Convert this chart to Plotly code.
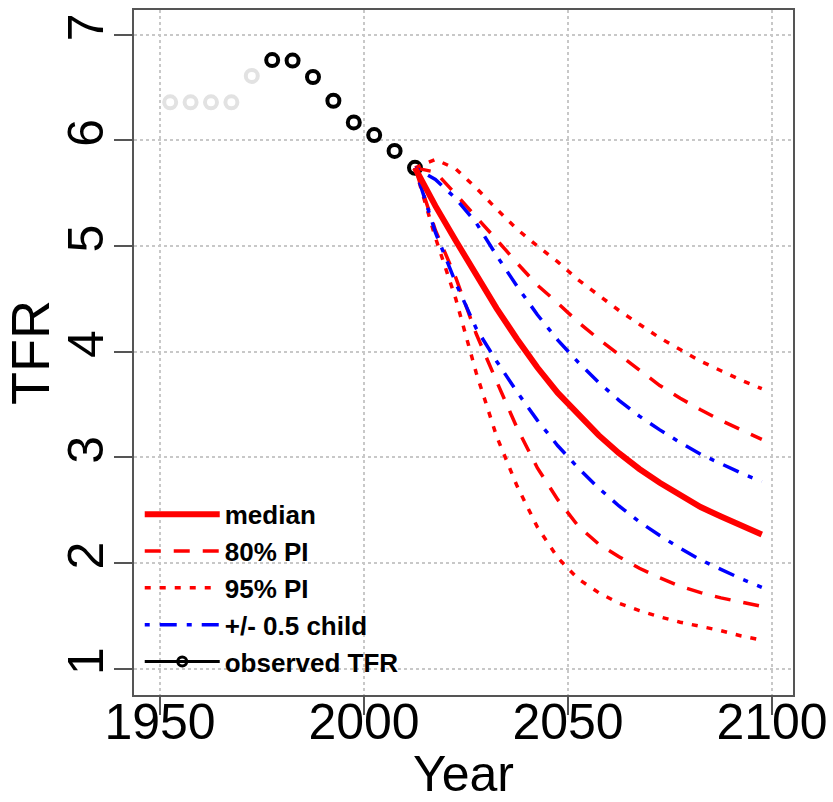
import plotly.graph_objects as go

# ---- data ----
obs_years_gray = [1952.5, 1957.5, 1962.5, 1967.5, 1972.5]
obs_tfr_gray = [6.36, 6.36, 6.36, 6.36, 6.61]
obs_years = [1977.5, 1982.5, 1987.5, 1992.5, 1997.5, 2002.5, 2007.5, 2012.5]
obs_tfr = [6.76, 6.755, 6.60, 6.375, 6.17, 6.05, 5.90, 5.74]

proj_years = [2012.5, 2017.5, 2022.5, 2027.5, 2032.5, 2037.5, 2042.5, 2047.5, 2052.5,
              2057.5, 2062.5, 2067.5, 2072.5, 2077.5, 2082.5, 2087.5, 2092.5, 2097.5]
median = [5.74, 5.38, 5.05, 4.72, 4.41, 4.12, 3.85, 3.61, 3.40,
          3.21, 3.04, 2.89, 2.76, 2.64, 2.53, 2.44, 2.35, 2.27]
pi80_upper = [5.74, 5.70, 5.49, 5.28, 5.06, 4.84, 4.63, 4.46, 4.28,
              4.12, 3.97, 3.82, 3.68, 3.56, 3.45, 3.35, 3.26, 3.17]
pi80_lower = [5.74, 5.15, 4.70, 4.17, 3.72, 3.28, 2.90, 2.60, 2.35,
              2.18, 2.06, 1.95, 1.86, 1.78, 1.72, 1.67, 1.63, 1.59]
pi95_upper = [5.74, 5.82, 5.73, 5.55, 5.35, 5.16, 5.00, 4.85, 4.68,
              4.53, 4.39, 4.26, 4.13, 4.02, 3.91, 3.82, 3.73, 3.65]
pi95_lower = [5.74, 5.08, 4.50, 3.80, 3.20, 2.73, 2.34, 2.05, 1.85,
              1.72, 1.62, 1.55, 1.49, 1.44, 1.40, 1.36, 1.31, 1.27]
half_child_upper = [5.74, 5.63, 5.45, 5.22, 4.91, 4.62, 4.35, 4.11, 3.90,
                    3.71, 3.54, 3.39, 3.26, 3.14, 3.03, 2.94, 2.85, 2.77]
half_child_lower = [5.74, 5.13, 4.65, 4.22, 3.91, 3.62, 3.35, 3.11, 2.90,
                    2.71, 2.54, 2.39, 2.26, 2.14, 2.03, 1.94, 1.85, 1.77]

x_ticks = [1950, 2000, 2050, 2100]
y_ticks = [1, 2, 3, 4, 5, 6, 7]

RED = "#ff0000"
BLUE = "#0000ff"
DASH80 = "16px,13px"
DOT95 = "6px,9px"
DOTDASH = "5px,10px,17px,10px"

fig = go.Figure()

# observed
fig.add_trace(go.Scatter(x=obs_years_gray, y=obs_tfr_gray, mode="markers",
                         marker=dict(symbol="circle-open", size=12, color="#e2e2e2",
                                     line=dict(width=4)),
                         showlegend=False, hoverinfo="x+y"))
fig.add_trace(go.Scatter(x=obs_years, y=obs_tfr, mode="markers",
                         marker=dict(symbol="circle-open", size=12, color="black",
                                     line=dict(width=4)),
                         showlegend=False, hoverinfo="x+y"))

# projections
fig.add_trace(go.Scatter(x=proj_years, y=pi95_upper, mode="lines", name="95% PI",
                         legendgroup="95", legendrank=3,
                         line=dict(color=RED, width=3.5, dash=DOT95)))
fig.add_trace(go.Scatter(x=proj_years, y=pi95_lower, mode="lines", name="95% PI",
                         legendgroup="95", showlegend=False,
                         line=dict(color=RED, width=3.5, dash=DOT95)))
fig.add_trace(go.Scatter(x=proj_years, y=pi80_upper, mode="lines", name="80% PI",
                         legendgroup="80", legendrank=2,
                         line=dict(color=RED, width=3.5, dash=DASH80)))
fig.add_trace(go.Scatter(x=proj_years, y=pi80_lower, mode="lines", name="80% PI",
                         legendgroup="80", showlegend=False,
                         line=dict(color=RED, width=3.5, dash=DASH80)))
fig.add_trace(go.Scatter(x=proj_years, y=half_child_upper, mode="lines", name="+/- 0.5 child",
                         legendgroup="hc", legendrank=4,
                         line=dict(color=BLUE, width=3.5, dash=DOTDASH)))
fig.add_trace(go.Scatter(x=proj_years, y=half_child_lower, mode="lines", name="+/- 0.5 child",
                         legendgroup="hc", showlegend=False,
                         line=dict(color=BLUE, width=3.5, dash=DOTDASH)))
fig.add_trace(go.Scatter(x=proj_years, y=median, mode="lines", name="median",
                         legendrank=1, line=dict(color=RED, width=6)))
# legend entry for observed TFR (line + point as in the original key)
fig.add_trace(go.Scatter(x=[None], y=[None], mode="lines+markers", name="observed TFR",
                         legendrank=5,
                         line=dict(color="black", width=3),
                         marker=dict(symbol="circle-open", size=9, color="black",
                                     line=dict(width=3))))

FONT = "Liberation Sans, Arial, sans-serif"
fig.update_layout(
    width=833, height=802,
    margin=dict(l=134, r=40, t=10, b=107),
    paper_bgcolor="white", plot_bgcolor="white",
    font=dict(family=FONT, color="black"),
    showlegend=True,
    legend=dict(x=0.0087, y=0.298, xanchor="left", yanchor="top",
                bgcolor="rgba(0,0,0,0)", borderwidth=0,
                font=dict(family=FONT, size=26, weight="bold", color="black"),
                itemwidth=75, tracegroupgap=0),
)
fig.update_xaxes(
    range=[1943.63, 2105.15], tickvals=x_ticks, ticktext=[str(v) for v in x_ticks],
    showgrid=True, gridcolor="#c8c8c8", griddash="dot", gridwidth=1.5,
    showline=True, linecolor="#555555", linewidth=2, mirror=True,
    ticks="outside", ticklen=18, tickwidth=1.5, tickcolor="#555555",
    tickfont=dict(size=50, family=FONT), ticklabelstandoff=-36,
    title=dict(text="Year", font=dict(size=50, family=FONT), standoff=5),
    zeroline=False, automargin=False,
)
fig.update_yaxes(
    range=[0.751, 7.234], tickvals=y_ticks, ticktext=[str(v) for v in y_ticks],
    showgrid=True, gridcolor="#c8c8c8", griddash="dot", gridwidth=1.5,
    showline=True, linecolor="#555555", linewidth=2, mirror=True,
    ticks="outside", ticklen=18, tickwidth=1.5, tickcolor="#555555",
    tickfont=dict(size=50, family=FONT), tickangle=-90, ticklabelstandoff=-9,
    title=dict(text="TFR", font=dict(size=54, family=FONT), standoff=7),
    zeroline=False, automargin=False,
)

fig.write_html("out.html")
